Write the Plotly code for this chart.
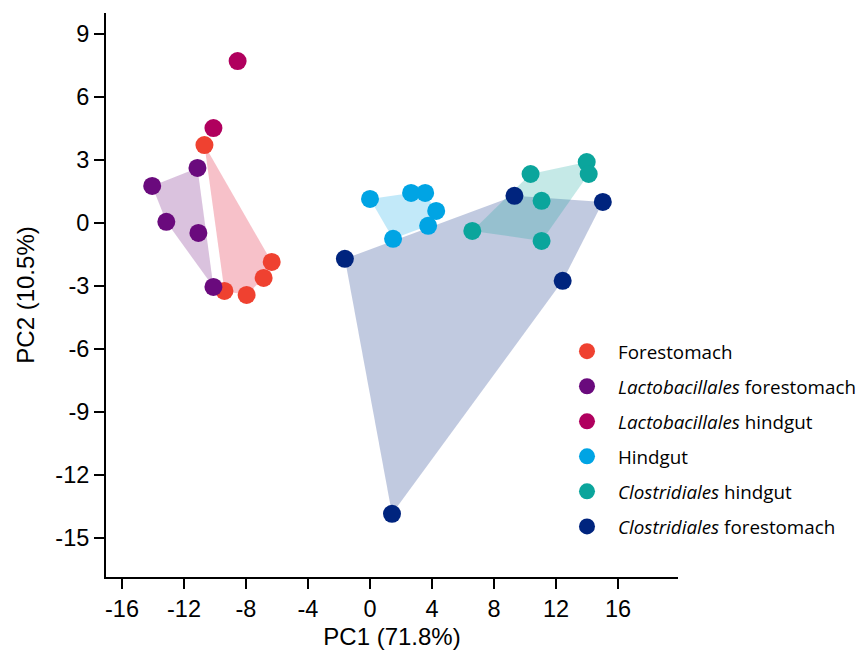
import plotly.graph_objects as go

# ---- data ----
groups = [
    "Forestomach",
    "<i>Lactobacillales</i> forestomach",
    "<i>Lactobacillales</i> hindgut",
    "Hindgut",
    "<i>Clostridiales</i> hindgut",
    "<i>Clostridiales</i> forestomach",
]

forestomach_x = [-10.68, -6.34, -6.86, -7.96, -9.39]
forestomach_y = [3.71, -1.86, -2.62, -3.43, -3.24]

lacto_fore_x = [-11.13, -14.05, -13.14, -11.07, -10.10]
lacto_fore_y = [2.62, 1.76, 0.05, -0.48, -3.05]

lacto_hind_x = [-8.54, -10.10]
lacto_hind_y = [7.71, 4.52]

hindgut_x = [0.0, 2.65, 3.56, 4.27, 3.75, 1.49]
hindgut_y = [1.14, 1.43, 1.43, 0.57, -0.14, -0.76]

clost_hind_x = [10.36, 13.98, 14.11, 11.07, 6.60, 11.07]
clost_hind_y = [2.33, 2.90, 2.33, 1.05, -0.38, -0.86]

clost_fore_x = [9.32, 15.02, -1.62, 12.43, 1.42]
clost_fore_y = [1.29, 1.00, -1.71, -2.76, -13.86]

xs = [forestomach_x, lacto_fore_x, lacto_hind_x, hindgut_x, clost_hind_x, clost_fore_x]
ys = [forestomach_y, lacto_fore_y, lacto_hind_y, hindgut_y, clost_hind_y, clost_fore_y]

colors = ["#EF4130", "#6A0A7D", "#B0005E", "#00A4E4", "#0BA59C", "#00247E"]
hull_fills = ["rgba(228,40,70,0.29)", "rgba(106,10,125,0.25)", None,
              "rgba(0,164,228,0.24)", "rgba(11,165,156,0.24)", "rgba(0,36,126,0.245)"]
hull_order = [0, 1, 3, 5, 4]

x_ticks = [-16, -12, -8, -4, 0, 4, 8, 12, 16]
x_tick_labels = ["-16", "-12", "-8", "-4", "0", "4", "8", "12", "16"]
y_ticks = [9, 6, 3, 0, -3, -6, -9, -12, -15]
y_tick_labels = ["9", "6", "3", "0", "-3", "-6", "-9", "-12", "-15"]


def convex_hull(px, py):
    pts = sorted(set(zip(px, py)))
    if len(pts) < 3:
        return pts

    def cross(o, a, b):
        return (a[0] - o[0]) * (b[1] - o[1]) - (a[1] - o[1]) * (b[0] - o[0])

    lower, upper = [], []
    for p in pts:
        while len(lower) >= 2 and cross(lower[-2], lower[-1], p) <= 0:
            lower.pop()
        lower.append(p)
    for p in reversed(pts):
        while len(upper) >= 2 and cross(upper[-2], upper[-1], p) <= 0:
            upper.pop()
        upper.append(p)
    return lower[:-1] + upper[:-1]


fig = go.Figure()

for i in hull_order:
    hull = convex_hull(xs[i], ys[i])
    hx = [p[0] for p in hull] + [hull[0][0]]
    hy = [p[1] for p in hull] + [hull[0][1]]
    fig.add_trace(go.Scatter(
        x=hx, y=hy, mode="lines", fill="toself",
        fillcolor=hull_fills[i], line=dict(width=0),
        hoverinfo="skip", showlegend=False, legendgroup=str(i),
    ))

for i, name in enumerate(groups):
    fig.add_trace(go.Scatter(
        x=xs[i], y=ys[i], mode="markers", name=name,
        marker=dict(size=18, color=colors[i], line=dict(width=0)),
        legendgroup=str(i),
    ))

font_tick = dict(family="Arial, Liberation Sans, sans-serif", size=23.5, color="black")
font_title = dict(family="Arial, Liberation Sans, sans-serif", size=24, color="black")

axis_common = dict(
    showline=True, linecolor="black", linewidth=2,
    ticks="outside", ticklen=10, tickwidth=2, tickcolor="black",
    showgrid=False, zeroline=False,
    tickfont=font_tick,
)

fig.update_layout(
    width=859, height=655,
    margin=dict(l=106, r=181, t=13, b=78, autoexpand=False),
    plot_bgcolor="white", paper_bgcolor="white",
    xaxis=dict(range=[-17.03, 19.87], tickmode="array",
               tickvals=x_ticks, ticktext=x_tick_labels,
               title=dict(text="PC1 (71.8%)", standoff=7, font=font_title),
               **axis_common),
    yaxis=dict(range=[-16.87, 10.0], tickmode="array",
               tickvals=y_ticks, ticktext=y_tick_labels,
               title=dict(text="PC2 (10.5%)", standoff=14, font=font_title),
               **axis_common),
    legend=dict(x=0.7867, xanchor="left", y=0.2447, yanchor="middle",
                font=dict(family="Open Sans", size=18.8, color="black"),
                itemwidth=52,
                tracegroupgap=7.6, bgcolor="rgba(0,0,0,0)", borderwidth=0),
    showlegend=True,
)

fig.write_html("out.html", config={"displayModeBar": False},
               post_script="document.body.style.margin='0';")
